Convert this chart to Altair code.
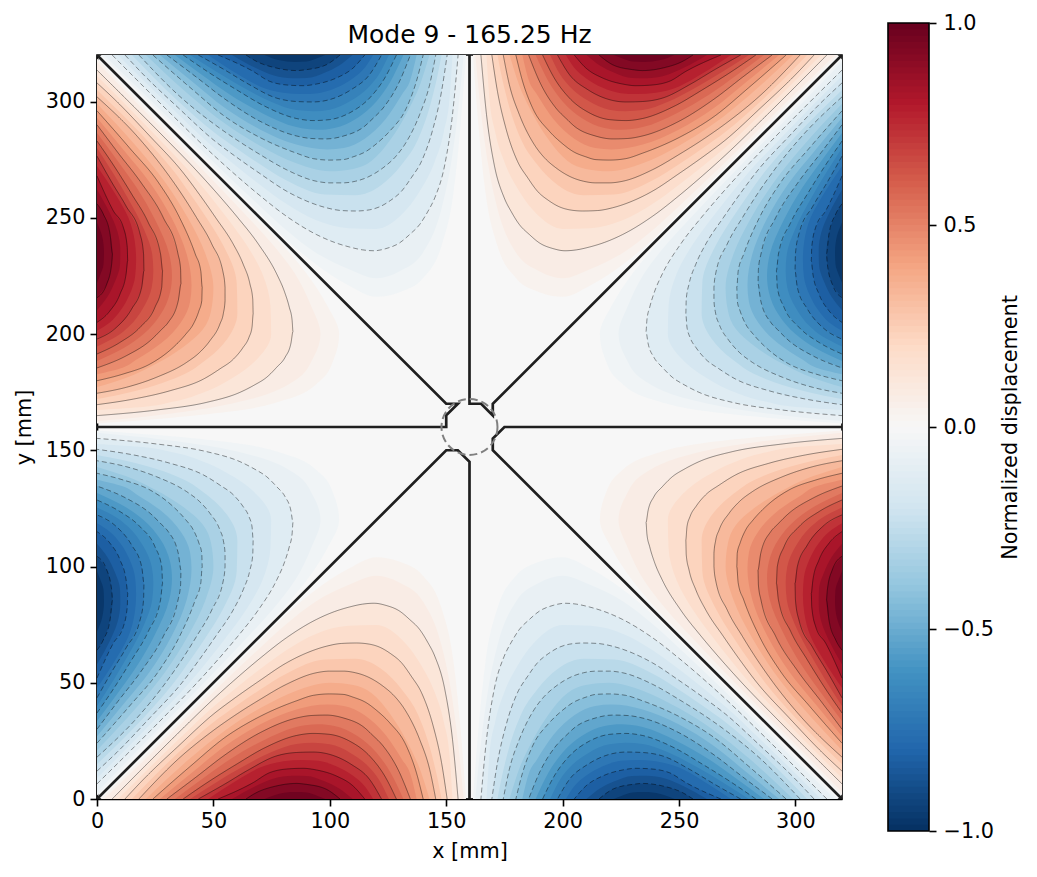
import altair as alt
import pandas as pd

# Contour traces of one lobe (lower-left sector), in mm:
# y positions and the x position of the contour at that y.
LEVELS = [0.1, 0.2, 0.3, 0.4, 0.5, 0.6, 0.7, 0.8, 0.9]
Y1 = [6.5, 20, 35, 50, 60, 70, 81.3, 94.2, 102, 108.5, 114, 119, 124, 130, 134.3, 138.6, 142, 145.1, 149.4, 152.7, 155.1]
X1 = [0, 13.6, 28.5, 43, 52, 60.5, 69.3, 77.2, 80.6, 82.6, 83.8, 84.2, 83.3, 80.8, 77.2, 72.9, 67.5, 61.4, 47.1, 25.6, 0]
Y2 = [12, 20, 35, 50, 60, 70, 81.3, 90, 98.5, 105, 111.4, 117, 121.4, 126, 130.8, 135, 139.4, 144.4, 148, 150.4]
X2 = [0, 8.5, 22.8, 36.5, 44, 51, 58.5, 62.8, 65.7, 66.9, 67.1, 66.6, 65.3, 62.6, 58.6, 52.8, 45.7, 31.4, 15.6, 0]
Y3 = [18, 35, 50, 60, 70, 81.3, 94.2, 100, 105.8, 111, 115.7, 122.9, 128, 132.2, 138.6, 142.9, 145.5]
X3 = [0, 17.3, 29.5, 36.5, 42.8, 49.3, 54.3, 55, 55, 54.3, 52.8, 48.5, 44, 38.5, 25.6, 12.7, 0]
Y4 = [24, 40, 55, 70, 85.6, 93, 99.9, 105.7, 110, 115.7, 120, 125.7, 132.9, 137.2, 140.1]
X4 = [0, 14, 26.5, 35.5, 42.2, 44.6, 45.2, 45, 43.8, 41.4, 38.2, 32.8, 22.8, 11.3, 0]
Y5 = [30, 42, 55, 70, 85.6, 92, 98.5, 105.7, 115, 118, 122.9, 129.3, 134.6]
X5 = [0, 9, 19, 28.5, 34.8, 35.9, 36.1, 34.9, 30.6, 27.8, 22.8, 12.7, 0]
Y6 = [37, 48, 60, 72, 85.6, 92.8, 99.9, 108.5, 117.1, 123.6, 128.6]
X6 = [0, 7.5, 15, 22, 27.3, 28.2, 27.8, 24.9, 18.5, 9.9, 0]
Y7 = [43.5, 55, 65, 77, 85.6, 92.8, 99.9, 109.2, 117.1, 122.2]
X7 = [0, 6.5, 12.5, 18.5, 20, 20.2, 19.2, 14.9, 8.4, 0]
Y8 = [52, 67, 74.1, 82.7, 88.5, 94.2, 102.8, 110, 115]
X8 = [0, 7, 11.3, 13, 13.2, 12.5, 9.9, 5.6, 0]
Y9 = [64, 68.4, 77, 85.6, 89.9, 98.5, 104.4]
X9 = [0, 2.7, 5.6, 6.7, 6.3, 4.2, 0]
TRACES = [(Y1, X1), (Y2, X2), (Y3, X3), (Y4, X4), (Y5, X5), (Y6, X6), (Y7, X7), (Y8, X8), (Y9, X9)]

# Intermediate shading isolines (no drawn line in the reference), estimated by eye.
MID_LEVELS = [0.025, 0.05, 0.15, 0.25, 0.35, 0.45, 0.55, 0.65, 0.75, 0.85, 0.95]
MY02 = [1.5, 20, 50, 70, 81, 94, 108, 120, 130, 140, 148, 153, 156, 158.5]
MX02 = [0, 18, 48, 68, 79, 90, 99, 104, 102, 96, 82, 60, 32, 0]
MY05 = [3, 20, 50, 70, 81, 94, 108, 120, 130, 140, 148, 152, 155, 157.5]
MX05 = [0, 16.5, 46, 65, 75, 85, 92, 96, 93, 85, 66, 47, 25, 0]
MY15 = [9, 20, 35, 50, 60, 70, 81.3, 94, 108, 120, 130, 139, 145, 149, 151.5, 152.7]
MX15 = [0, 11, 25.6, 39.7, 48, 55.8, 64, 71, 74.5, 74.8, 69.5, 58, 46, 33, 18, 0]
MY25 = [15, 35, 50, 60, 70, 81.3, 98, 111, 122, 131, 138, 143, 146, 148]
MX25 = [0, 20, 33, 40.2, 47, 53.9, 60, 60.3, 56, 47, 36, 22, 10, 0]
MY35 = [21, 40, 55, 70, 85.6, 100, 110, 118, 126, 133, 139, 142.8]
MX35 = [0, 17.5, 29.5, 39, 46.6, 50, 49, 45.5, 36.5, 25, 12, 0]
MY45 = [27, 41, 55, 70, 85.6, 99, 106, 115, 124, 131, 134.5, 137.3]
MX45 = [0, 11.5, 22.8, 32, 38.5, 40.6, 40, 36, 27.5, 17, 11, 0]
MY55 = [33.5, 45, 57, 71, 85.6, 95, 102, 112, 120, 126, 131.6]
MX55 = [0, 8.5, 17, 25, 31, 32.2, 31.4, 27, 20, 11.5, 0]
MY65 = [40, 51, 62, 75, 85.6, 93, 100, 109, 117, 121, 125.4]
MX65 = [0, 7, 13.5, 20.2, 23.7, 24.2, 23.5, 19.7, 13.5, 8.5, 0]
MY75 = [47.7, 60, 70, 80, 88, 95, 103, 110, 115, 118.6]
MX75 = [0, 8, 13.5, 16.2, 16.8, 16.4, 14, 10, 5.5, 0]
MY85 = [58, 68, 76, 84, 90, 98, 104, 109.8]
MX85 = [0, 5.5, 8.8, 10, 9.9, 7.5, 4.5, 0]
MY95 = [72, 78, 85, 90, 95, 98]
MX95 = [0, 2.2, 3, 2.8, 1.2, 0]
MID_TRACES = [(MY02, MX02), (MY05, MX05), (MY15, MX15), (MY25, MX25), (MY35, MX35), (MY45, MX45),
              (MY55, MX55), (MY65, MX65), (MY75, MX75), (MY85, MX85), (MY95, MX95)]

# Walls (slits) of the plate, mm
WALL_A_X = [160, 160, 165, 170, 170, 320]
WALL_A_Y = [320, 170, 170, 165, 170, 320]
WALL_B_X = [320, 175, 170, 170, 320]
WALL_B_Y = [160, 160, 155, 150, 0]
WALL_C_X = [160, 160, 155, 150, 0]
WALL_C_Y = [0, 145, 150, 150, 0]
WALL_D_X = [0, 150, 150, 155, 150, 0]
WALL_D_Y = [160, 160, 165, 170, 170, 320]
WALLS = [(WALL_A_X, WALL_A_Y), (WALL_B_X, WALL_B_Y), (WALL_C_X, WALL_C_Y), (WALL_D_X, WALL_D_Y)]
HOLE_X = [160]
HOLE_Y = [160]

STOPS = [-1, -0.8, -0.6, -0.4, -0.2, 0, 0.2, 0.4, 0.6, 0.8, 1]
RDBU_R = ["#053061", "#2166ac", "#4393c3", "#92c5de", "#d1e5f0", "#f7f7f7",
          "#fddbc7", "#f4a582", "#d6604d", "#b2182b", "#67001f"]
CB_TICKS = [-1, -0.5, 0, 0.5, 1]
XY_TICKS = [0, 50, 100, 150, 200, 250, 300]


def shade(v):
    """Colour of value v on the RdBu_r map, for marks that need a constant fill."""
    for k in range(len(STOPS) - 1):
        if STOPS[k] <= v <= STOPS[k + 1]:
            t = (v - STOPS[k]) / (STOPS[k + 1] - STOPS[k])
            a = [int(RDBU_R[k][j:j + 2], 16) for j in (1, 3, 5)]
            b = [int(RDBU_R[k + 1][j:j + 2], 16) for j in (1, 3, 5)]
            return "#%02x%02x%02x" % tuple(round(p + t * (q - p)) for p, q in zip(a, b))
    return RDBU_R[-1]


# The eight sectors: the same lobe mirrored, with a sign
SECTORS = [
    ("LL", "h", -1, lambda a, b: (a, b), 0),
    ("LU", "h", 1, lambda a, b: (a, 320 - b), 0),
    ("RL", "h", 1, lambda a, b: (320 - a, b), 320),
    ("RU", "h", -1, lambda a, b: (320 - a, 320 - b), 320),
    ("BL", "v", 1, lambda a, b: (b, a), 0),
    ("BR", "v", -1, lambda a, b: (320 - b, a), 0),
    ("TL", "v", -1, lambda a, b: (b, 320 - a), 320),
    ("TR", "v", 1, lambda a, b: (320 - b, 320 - a), 320),
]


def rows_for(lev, ys_, xs_):
    rows = []
    for name, orient, sign, fn, base in SECTORS:
        for i, (yv, xv) in enumerate(zip(ys_, xs_)):
            px, py = fn(xv, yv)
            rows.append(dict(curve=f"{name}{lev}", orient=orient, sign=sign, lev=lev, x=px, y=py,
                             base=base, i=i, kind="neg" if sign < 0 else "pos"))
    return rows


line_rows = []
fill_sets = []
for lev, (ys_, xs_) in zip(LEVELS, TRACES):
    r = rows_for(lev, ys_, xs_)
    line_rows += r
    fill_sets.append((lev, r))
for lev, (ys_, xs_) in zip(MID_LEVELS, MID_TRACES):
    fill_sets.append((lev, rows_for(lev, ys_, xs_)))
fill_sets.sort(key=lambda p: p[0])
df_lines = pd.DataFrame(line_rows)

x_scale = alt.Scale(domain=[0, 320], nice=False, zero=False)
y_scale = alt.Scale(domain=[0, 320], nice=False, zero=False)
FONT = "DejaVu Sans"
axis_common = dict(grid=False, labelFont=FONT, titleFont=FONT, labelFontSize=20.8,
                   titleFontSize=20.8, titleFontWeight="normal", tickColor="#000", domainColor="#000",
                   labelColor="#000", titleColor="#000", tickSize=7, tickWidth=1.6, domainWidth=1.6,
                   labelFlush=False, labelOverlap=False)
x_enc = alt.X("x:Q", scale=x_scale, title="x [mm]",
              axis=alt.Axis(values=XY_TICKS, labelAngle=0, titlePadding=11, labelPadding=5, **axis_common))
y_enc = alt.Y("y:Q", scale=y_scale, title="y [mm]",
              axis=alt.Axis(values=XY_TICKS, titlePadding=11, labelPadding=5, **axis_common))

layers = []
for lev, r in fill_sets:
    d = pd.DataFrame(r)
    for sign in (-1, 1):
        col = shade(sign * (lev + (0.0125 if lev < 0.05 else 0.025)))
        sub = d[(d.sign == sign) & (d.orient == "h")]
        layers.append(alt.Chart(sub).mark_area(orient="horizontal", interpolate="monotone", color=col).encode(
            x=x_enc, x2="base:Q", y=y_enc, detail="curve:N"))
        sub = d[(d.sign == sign) & (d.orient == "v")]
        layers.append(alt.Chart(sub).mark_area(orient="vertical", interpolate="monotone", color=col).encode(
            x=x_enc, y=y_enc, y2="base:Q", detail="curve:N"))

dash = alt.StrokeDash("kind:N", scale=alt.Scale(domain=["neg", "pos"], range=[[5, 3], [1, 0]]), legend=None)
for o, orient in (("h", "horizontal"), ("v", "vertical")):
    layers.append(alt.Chart(df_lines[df_lines.orient == o]).mark_line(
        orient=orient, interpolate="monotone", color="#000", strokeWidth=1, opacity=0.42).encode(
        x=x_enc, y=y_enc, detail="curve:N", order=alt.Order("i:Q"), strokeDash=dash))

wall_rows = []
for w, (wx, wy) in enumerate(WALLS):
    for i, (a, b) in enumerate(zip(wx, wy)):
        wall_rows.append(dict(w=w, i=i, x=a, y=b))
layers.append(alt.Chart(pd.DataFrame(wall_rows)).mark_line(color="#1f1f1f", strokeWidth=2.7, clip=True).encode(
    x=x_enc, y=y_enc, detail="w:N", order=alt.Order("i:Q")))

layers.append(alt.Chart(pd.DataFrame(dict(x=HOLE_X, y=HOLE_Y))).mark_point(
    shape="circle", size=3136, filled=False, color="#808080", strokeWidth=2, strokeDash=[8, 4], opacity=1).encode(
    x=x_enc, y=y_enc))

TITLE = ["Mode 9 - 165.25 Hz"]
layers.append(alt.Chart(pd.DataFrame(dict(t=TITLE))).mark_text(
    font=FONT, fontSize=25, color="#000", align="center", baseline="middle").encode(
    text="t:N", x=alt.value(372.5), y=alt.value(-20)))

main = alt.layer(*layers)

# Colour bar
N_STRIPS = 128
lows = [-1 + 2 * k / N_STRIPS for k in range(N_STRIPS)]
cb = pd.DataFrame(dict(lo=lows, hi=[min(1, v + 2 / N_STRIPS + 0.006) for v in lows]))
cb["v"] = (cb.lo + 1 / N_STRIPS)
fill_scale = alt.Scale(domain=STOPS, range=RDBU_R, interpolate="rgb")
cb_scale = alt.Scale(domain=[-1, 1], range=[776, -32], nice=False, zero=False)
cb_axis = alt.Axis(orient="right", offset=87, values=CB_TICKS, domain=False,
                   labelExpr="replace(format(datum.value,'.1f'),'-','\u2212')",
                   titlePadding=27, titleAngle=270, labelPadding=7, **axis_common)
strips = alt.Chart(cb).mark_rect().encode(
    x=alt.value(791), x2=alt.value(832),
    y=alt.Y("lo:Q", scale=cb_scale, title="Normalized displacement", axis=cb_axis),
    y2="hi:Q",
    fill=alt.Fill("v:Q", scale=fill_scale, legend=None))
cb_frame = alt.Chart(pd.DataFrame(dict(lo=[-1], hi=[1]))).mark_rect(
    fill="transparent", stroke="#000", strokeWidth=1.6).encode(
    x=alt.value(791), x2=alt.value(832),
    y=alt.Y("lo:Q", scale=cb_scale, title="Normalized displacement", axis=cb_axis), y2="hi:Q")
cbar = alt.layer(strips, cb_frame)

chart = alt.layer(main, cbar).resolve_scale(y="independent").properties(
    width=745, height=744,
    padding={"left": 5, "top": 4, "right": 5, "bottom": 5},
    background="white",
).configure_view(fill="#f7f7f7", stroke="#000", strokeWidth=1.6)

chart.save("out.html", embed_options={"renderer": "svg", "actions": False})
